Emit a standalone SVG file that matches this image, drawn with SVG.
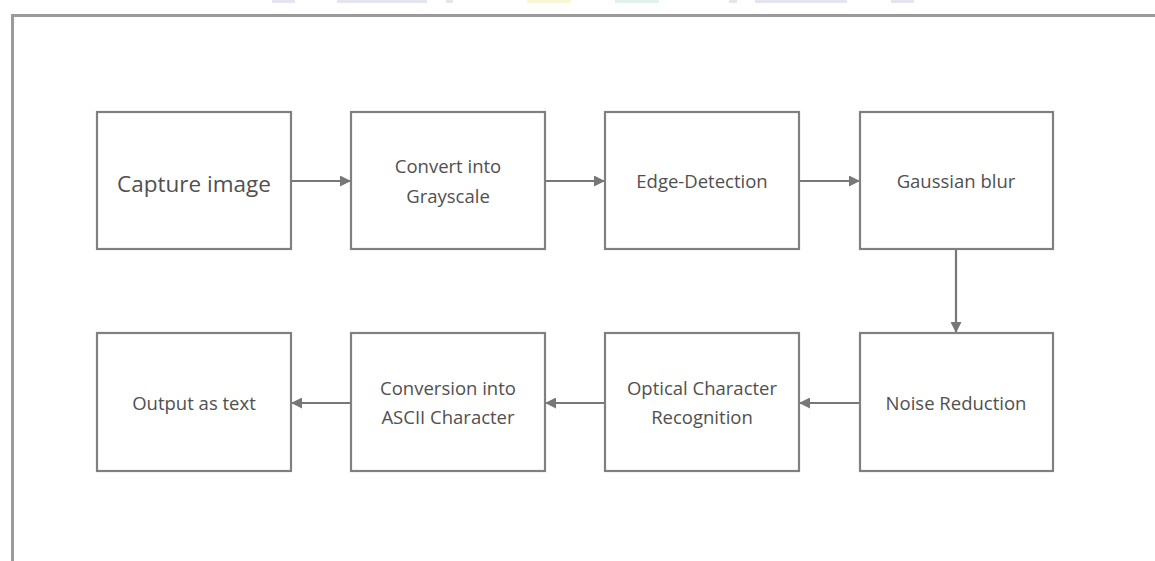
<svg xmlns="http://www.w3.org/2000/svg" width="1155" height="561" viewBox="0 0 1155 561">
<style>
.box{fill:#fff;stroke:#808080;stroke-width:2.2}
.t{font-family:"Open Sans","Noto Sans",sans-serif;font-size:18.5px;fill:#505050;text-anchor:middle}
.big{font-size:22.5px}
.c{stroke:#777;stroke-width:2.2;fill:none;marker-end:url(#ah)}
.frame{stroke:#9a9a9a;stroke-width:3;fill:none}
</style>
<defs>
<marker id="ah" viewBox="0 0 10 10" refX="10" refY="5" markerWidth="5" markerHeight="5" markerUnits="strokeWidth" orient="auto">
<path d="M0,0 L10,5 L0,10 z" fill="#777"/>
</marker>
</defs>
<rect width="1155" height="561" fill="#fff"/>
<g id="watermark" opacity="0.5">
<rect x="272" y="0" width="23" height="3" fill="#c8cfe0"/>
<rect x="337" y="0" width="90" height="3" fill="#c8cfe0"/>
<rect x="446" y="0" width="7" height="3" fill="#c8cfe0"/>
<rect x="527" y="0" width="44" height="3" fill="#f3efb0"/>
<rect x="615" y="0" width="44" height="3" fill="#c8e6d4"/>
<rect x="729" y="0" width="8" height="3" fill="#c8cfe0"/>
<rect x="755" y="0" width="92" height="3" fill="#c8cfe0"/>
<rect x="891" y="0" width="23" height="3" fill="#c8cfe0"/>
</g>
<path class="frame" d="M1155,15.5 H12.5 V561"/>
<g id="connectors">
<line class="c" x1="292" y1="181" x2="351" y2="181"/>
<line class="c" x1="546" y1="181" x2="605" y2="181"/>
<line class="c" x1="800" y1="181" x2="860" y2="181"/>
<line class="c" x1="956" y1="250" x2="956" y2="333"/>
<line class="c" x1="859" y1="403" x2="799" y2="403"/>
<line class="c" x1="604" y1="403" x2="545" y2="403"/>
<line class="c" x1="350" y1="403" x2="291" y2="403"/>
</g>
<g id="n1"><rect class="box" x="97" y="112" width="194" height="137"/><text class="t big" x="194" y="192">Capture image</text></g>
<g id="n2"><rect class="box" x="351" y="112" width="194" height="137"/><text class="t" x="448" y="173">Convert into</text><text class="t" x="448" y="203">Grayscale</text></g>
<g id="n3"><rect class="box" x="605" y="112" width="194" height="137"/><text class="t" x="702" y="188">Edge-Detection</text></g>
<g id="n4"><rect class="box" x="860" y="112" width="193" height="137"/><text class="t" x="956" y="188">Gaussian blur</text></g>
<g id="n5"><rect class="box" x="860" y="333" width="193" height="138"/><text class="t" x="956" y="410">Noise Reduction</text></g>
<g id="n6"><rect class="box" x="605" y="333" width="194" height="138"/><text class="t" x="702" y="395">Optical Character</text><text class="t" x="702" y="424">Recognition</text></g>
<g id="n7"><rect class="box" x="351" y="333" width="194" height="138"/><text class="t" x="448" y="395">Conversion into</text><text class="t" x="448" y="424">ASCII Character</text></g>
<g id="n8"><rect class="box" x="97" y="333" width="194" height="138"/><text class="t" x="194" y="410">Output as text</text></g>
</svg>
